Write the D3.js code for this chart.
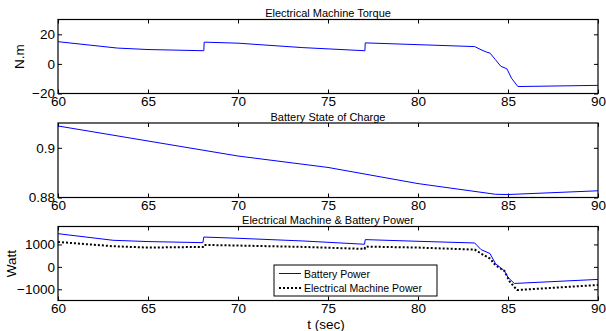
<!DOCTYPE html>
<html>
<head>
<meta charset="utf-8">
<script src="https://cdn.jsdelivr.net/npm/d3@7"></script>
<style>
body { margin: 0; background: #fff; }
svg { font-family: Arial, "Liberation Sans", sans-serif; }
.tick text { font-size: 13.5px; fill: #000; }
.tick line { stroke: #000; }
.domain { display: none; }
</style>
</head>
<body>
<svg id="chart" width="606" height="331"></svg>
<script>
var width = 606, height = 331;
var left = 58, right = 598;

// time axis
var xTicks = [60, 65, 70, 75, 80, 85, 90];

// torque (N.m)
var torqueT = [60, 63.3, 65, 68.1, 68.12, 70, 73.6, 77.05, 77.07, 80, 83.15, 83.5, 83.8, 84.0, 84.3, 84.6, 84.94, 85.2, 85.55, 90];
var torqueV = [15, 10.7, 9.7, 8.9, 14.7, 14, 11, 8.9, 14.2, 13, 11.7, 9.6, 8.0, 7.3, 2.9, -1.6, -3.3, -9.8, -15.3, -14.5];
var torqueTicks = [-20, 0, 20];

// battery state of charge
var socT = [60, 70, 75, 80, 84.3, 85, 90];
var socV = [0.9088, 0.8967, 0.8921, 0.8856, 0.8813, 0.8812, 0.8827];
var socTicks = [0.88, 0.9];

// power (W)
var batT = [60, 63.06, 65, 68.05, 68.1, 70, 73.6, 77.03, 77.07, 80, 83.15, 83.5, 84.0, 84.3, 84.8, 85.0, 85.35, 90];
var batV = [1480, 1185, 1128, 1080, 1330, 1275, 1155, 1008, 1215, 1140, 1065, 770, 595, 150, -180, -470, -740, -560];
var emT = [60, 63.06, 65, 68.05, 68.1, 70, 73.6, 77.03, 77.07, 80, 83.15, 83.5, 84.0, 84.3, 84.8, 85.1, 85.5, 90];
var emV = [1110, 920, 860, 890, 980, 950, 890, 800, 905, 860, 770, 595, 370, 75, -180, -665, -1035, -810];
var powerTicks = [-1000, 0, 1000];

var svg = d3.select('#chart');

var x = d3.scaleLinear().domain([60, 90]).range([left, right]);

function panel(top, bottom, domain, yTicks, fmt, title, yLabel, yLabelX) {
	var y = d3.scaleLinear().domain(domain).range([bottom, top]);
	var g = svg.append('g');

	g.append('g')
		.attr('transform', 'translate(0,' + bottom + ')')
		.call(d3.axisBottom(x).tickValues(xTicks).tickSize(-4).tickPadding(3).tickFormat(d3.format('d')));
	g.append('g')
		.attr('transform', 'translate(0,' + top + ')')
		.call(d3.axisTop(x).tickValues(xTicks).tickSize(-4).tickFormat(''));
	g.append('g')
		.attr('transform', 'translate(' + left + ',0)')
		.call(d3.axisLeft(y).tickValues(yTicks).tickSize(-4).tickPadding(3).tickFormat(fmt));
	g.append('g')
		.attr('transform', 'translate(' + right + ',0)')
		.call(d3.axisRight(y).tickValues(yTicks).tickSize(-4).tickFormat(''));

	g.append('rect')
		.attr('x', left).attr('y', top)
		.attr('width', right - left).attr('height', bottom - top)
		.attr('fill', 'none').attr('stroke', '#000').attr('stroke-width', 1.2);

	g.append('text')
		.attr('x', (left + right) / 2).attr('y', top - 2.5)
		.attr('text-anchor', 'middle')
		.attr('font-size', 11)
		.text(title);

	g.append('text')
		.attr('transform', 'translate(' + yLabelX + ',' + (top + bottom) / 2 + ') rotate(-90)')
		.attr('text-anchor', 'middle')
		.attr('font-size', 13.5)
		.text(yLabel);

	return {g: g, y: y};
}

function addLine(p, ts, vs, color, w, dash) {
	var line = d3.line().x(d => x(d[0])).y(d => p.y(d[1]));
	var path = p.g.append('path')
		.datum(ts.map((t, i) => [t, vs[i]]))
		.attr('d', line)
		.attr('fill', 'none')
		.attr('stroke', color)
		.attr('stroke-width', w);
	if (dash) path.attr('stroke-dasharray', dash);
}

// panel 1
var p1 = panel(19.5, 93.5, [-20, 30], torqueTicks, d3.format('d'), 'Electrical Machine Torque', 'N.m', 24);
addLine(p1, torqueT, torqueV, '#0000ff', 1);

// panel 2
var p2 = panel(123, 197.5, [0.88, 0.91], socTicks, d => d === 0.9 ? '0.9' : '0.88', 'Battery State of Charge', '', 0);
addLine(p2, socT, socV, '#0000ff', 1);

// panel 3
var p3 = panel(226.5, 300.5, [-1500, 1800], powerTicks, d3.format('d'), 'Electrical Machine & Battery Power', 'Watt', 16);
addLine(p3, emT, emV, '#000', 2, '2,2');
addLine(p3, batT, batV, '#0000ff', 1);

// legend
var lg = svg.append('g').attr('transform', 'translate(274,265)');
lg.append('rect')
	.attr('width', 163).attr('height', 31)
	.attr('fill', '#fff').attr('stroke', '#000').attr('stroke-width', 1);
lg.append('line').attr('x1', 5).attr('x2', 27).attr('y1', 8.5).attr('y2', 8.5)
	.attr('stroke', '#0000ff').attr('stroke-width', 1);
lg.append('line').attr('x1', 5).attr('x2', 27).attr('y1', 23).attr('y2', 23)
	.attr('stroke', '#000').attr('stroke-width', 2).attr('stroke-dasharray', '2,2');
lg.append('text').attr('x', 30).attr('y', 12.5).attr('font-size', 10.5).text('Battery Power');
lg.append('text').attr('x', 30).attr('y', 27).attr('font-size', 10.5).text('Electrical Machine Power');

// x label
svg.append('text')
	.attr('x', 326).attr('y', 328.5)
	.attr('text-anchor', 'middle')
	.attr('font-size', 13.5)
	.text('t (sec)');
</script>
</body>
</html>
